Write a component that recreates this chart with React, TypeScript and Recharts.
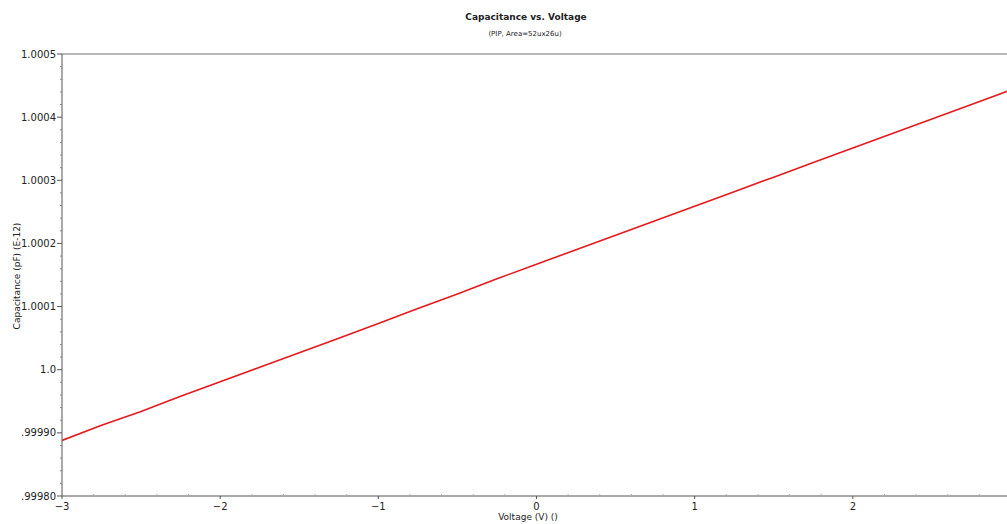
import React from "react"
import {
  LineChart,
  Line,
  XAxis,
  YAxis,
  ReferenceLine,
} from "recharts"

const voltages = [
  -3, -2.75, -2.5, -2.25, -2, -1.75, -1.5, -1.25, -1, -0.75, -0.5, -0.25, 0,
  0.25, 0.5, 0.75, 1, 1.25, 1.5, 1.75, 2, 2.25, 2.5, 2.75, 3,
]

const capacitance = [
  0.999888, 0.999912, 0.999934, 0.999958, 0.999981, 1.000004, 1.000027,
  1.00005, 1.000073, 1.000097, 1.00012, 1.000144, 1.000167, 1.00019, 1.000213,
  1.000236, 1.000259, 1.000282, 1.000305, 1.000328, 1.000351, 1.000374,
  1.000397, 1.00042, 1.000443,
]

// the "3" tick sits just past the right edge of the picture, so it has no label
const xMajor = [-3, -2, -1, 0, 1, 2]
const xMajorLabels = ["\u22123", "\u22122", "\u22121", "0", "1", "2"]
const xMinor = [
  -2.8, -2.6, -2.4, -2.2, -1.8, -1.6, -1.4, -1.2, -0.8, -0.6, -0.4, -0.2, 0.2,
  0.4, 0.6, 0.8, 1.2, 1.4, 1.6, 1.8, 2.2, 2.4, 2.6, 2.8,
]

const yMajor = [0.9998, 0.9999, 1.0, 1.0001, 1.0002, 1.0003, 1.0004, 1.0005]
const yMajorLabels = [
  ".99980",
  ".99990",
  "1.0",
  "1.0001",
  "1.0002",
  "1.0003",
  "1.0004",
  "1.0005",
]
const yMinor = [
  0.99982, 0.99984, 0.99986, 0.99988, 0.99992, 0.99994, 0.99996, 0.99998,
  1.00002, 1.00004, 1.00006, 1.00008, 1.00012, 1.00014, 1.00016, 1.00018,
  1.00022, 1.00024, 1.00026, 1.00028, 1.00032, 1.00034, 1.00036, 1.00038,
  1.00042, 1.00044, 1.00046, 1.00048,
]

const rows = voltages.map((v, i) => ({ v, c: capacitance[i] }))

const font = "'DejaVu Sans', Verdana, sans-serif"
const axisColor = "#555"

const findIdx = (arr: number[], val: number) =>
  arr.findIndex((a) => Math.abs(a - val) < 1e-9)

function XTick(props: any) {
  const { x, y, payload } = props
  const i = findIdx(xMajor, payload.value)
  if (i < 0) {
    return <line x1={x} x2={x} y1={y} y2={y - 2} stroke="#aaa" />
  }
  return (
    <g>
      <line x1={x} x2={x} y1={y} y2={y + 3} stroke={axisColor} />
      <text
        x={x}
        y={y + 14}
        textAnchor="middle"
        fontSize={10}
        fontFamily={font}
        fill="#222"
      >
        {xMajorLabels[i]}
      </text>
    </g>
  )
}

function YTick(props: any) {
  const { x, y, payload } = props
  const i = findIdx(yMajor, payload.value)
  if (i < 0) {
    return <line x1={x} x2={x - 2} y1={y} y2={y} stroke="#888" />
  }
  return (
    <g>
      <line x1={x} x2={x - 5} y1={y} y2={y} stroke={axisColor} />
      <text
        x={x - 6}
        y={y + 3.5}
        textAnchor="end"
        fontSize={10}
        fontFamily={font}
        fill="#222"
      >
        {yMajorLabels[i]}
      </text>
    </g>
  )
}

export default function App() {
  return (
    <div
      style={{
        position: "fixed",
        left: 0,
        top: 0,
        width: 1007,
        height: 524,
        overflow: "hidden",
        background: "#fff",
        fontFamily: font,
        color: "#222",
      }}
    >
      <div
        style={{
          position: "absolute",
          left: 526,
          top: 17,
          transform: "translate(-50%, -50%)",
          fontSize: 9,
          fontWeight: "bold",
          whiteSpace: "nowrap",
        }}
      >
        Capacitance vs. Voltage
      </div>
      <div
        style={{
          position: "absolute",
          left: 525,
          top: 34,
          transform: "translate(-50%, -50%)",
          fontSize: 7,
          whiteSpace: "nowrap",
        }}
      >
        (PIP, Area=52ux26u)
      </div>
      <div
        style={{
          position: "absolute",
          left: 17,
          top: 276,
          transform: "translate(-50%, -50%) rotate(-90deg)",
          fontSize: 9,
          whiteSpace: "nowrap",
        }}
      >
        Capacitance (pF) (E-12)
      </div>
      <div
        style={{
          position: "absolute",
          left: 528,
          top: 517,
          transform: "translate(-50%, -50%)",
          fontSize: 9,
          whiteSpace: "nowrap",
        }}
      >
        Voltage (V) ()
      </div>
      <LineChart
        width={1015}
        height={524}
        data={rows}
        margin={{ top: 54, right: 4, bottom: 0, left: 0 }}
      >
        <XAxis
          dataKey="v"
          type="number"
          domain={[-3, 3]}
          ticks={[...xMajor, ...xMinor]}
          interval={0}
          tick={<XTick />}
          tickLine={false}
          tickSize={0}
          tickMargin={0}
          height={28}
          stroke={axisColor}
          allowDataOverflow
        />
        <YAxis
          type="number"
          domain={[0.9998, 1.0005]}
          ticks={[...yMajor, ...yMinor]}
          interval={0}
          tick={<YTick />}
          tickLine={false}
          tickSize={0}
          tickMargin={0}
          width={62}
          stroke={axisColor}
          allowDataOverflow
        />
        <ReferenceLine y={1.0005} stroke="#a0a0a0" strokeWidth={1.5} />
        <Line
          type="linear"
          dataKey="c"
          stroke="#e41a1c"
          strokeWidth={1.6}
          dot={false}
          isAnimationActive={false}
        />
      </LineChart>
    </div>
  )
}
